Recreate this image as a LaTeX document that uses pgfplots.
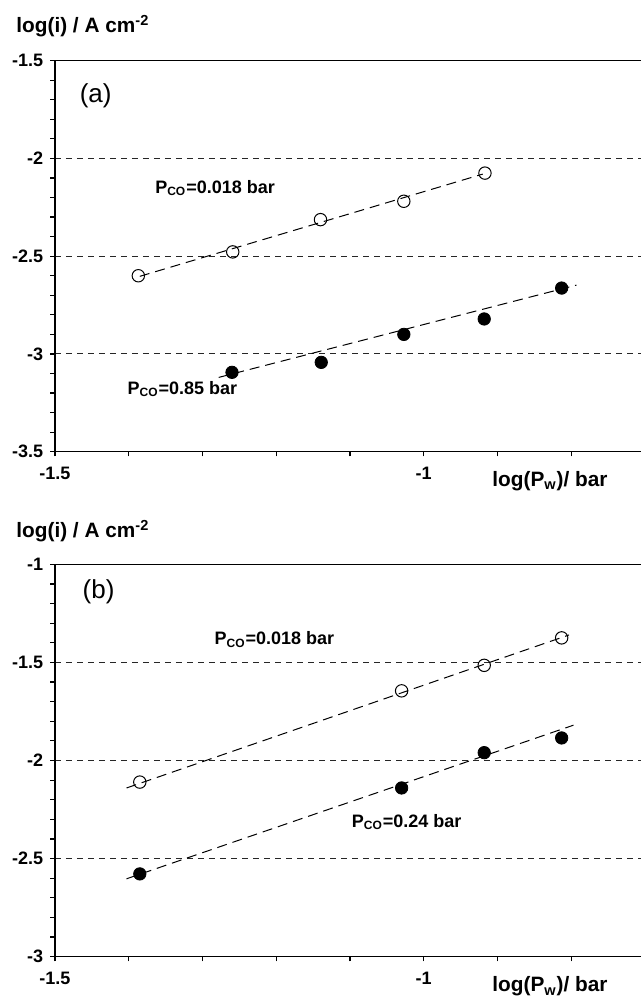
\documentclass[border=0pt]{standalone}
\usepackage{fontspec}
\setmainfont{Liberation Sans}
\usepackage{pgfplots}
\pgfplotsset{compat=1.18}

\pgfplotsset{
  panel/.style={
    scale only axis, width=295pt, anchor=south west,
    xmin=-1.5, xmax=-0.7,
    axis x line*=bottom, axis y line*=left,
    x axis line style={-}, y axis line style={-},
    axis line style={line width=0.8pt},
    tick align=outside, major tick length=2.4pt, minor tick length=2.4pt,
    every tick/.style={black, line width=0.6pt},
    xtick={-1.5,-1}, xticklabels={-1.5,-1},
    minor xtick={-1.4,-1.3,-1.2,-1.1,-0.9,-0.8},
    minor y tick num=4,
    ymajorgrids,
    major grid style={black!85, line width=0.55pt, dash pattern=on 3pt off 2.5pt},
    tick label style={font=\fontsize{9}{10}\selectfont\bfseries},
    xticklabel style={yshift=-2pt},
    clip=false,
  },
  open/.style={only marks, mark=o, mark size=3.1pt,
    mark options={line width=0.5pt, black, fill=white}},
  full/.style={only marks, mark=*, mark size=3.1pt, black},
  fit/.style={no marks, black, line width=0.5pt, dash pattern=on 5pt off 3pt},
}
\newcommand{\lab}{\fontsize{9}{10}\selectfont\bfseries}
\newcommand{\ttl}{\fontsize{10.4}{12}\selectfont\bfseries}

\begin{document}
\begin{tikzpicture}
\useasboundingbox (0,0) rectangle (320.5pt,501.5pt);

% (a)
\begin{axis}[panel, at={(27.5pt,275.65pt)}, height=195.5pt,
  ymin=-3.5, ymax=-1.5,
  ytick={-3.5,-3,-2.5,-2,-1.5}, yticklabels={-3.5,-3,-2.5,-2,-1.5}]
\draw[line width=0.7pt] (rel axis cs:0,1) -- (rel axis cs:1,1);
\addplot[fit] coordinates {(-1.385,-2.603) (-0.92,-2.08)};
\addplot[fit] coordinates {(-1.278,-3.12) (-0.793,-2.648)};
\addplot[open] coordinates {
(-1.387,-2.600) (-1.259,-2.478) (-1.140,-2.313) (-1.027,-2.219) (-0.917,-2.075)};
\addplot[full] coordinates {
(-1.260,-3.094) (-1.139,-3.043) (-1.027,-2.900) (-0.918,-2.821) (-0.813,-2.663)};
\node[anchor=west, font=\fontsize{13}{14}\selectfont] at (axis cs:-1.476,-1.681) {(a)};
\node[anchor=base west, font=\lab, inner sep=0pt] at (axis cs:-1.3645,-2.177) {P\textsubscript{CO}=0.018 bar};
\node[anchor=base west, font=\lab, inner sep=0pt] at (axis cs:-1.402,-3.205) {P\textsubscript{CO}=0.85 bar};
\end{axis}

% (b)
\begin{axis}[panel, at={(27.5pt,23.15pt)}, height=196.2pt,
  ymin=-3, ymax=-1,
  ytick={-3,-2.5,-2,-1.5,-1}, yticklabels={-3,-2.5,-2,-1.5,-1}]
\draw[line width=0.7pt] (rel axis cs:0,1) -- (rel axis cs:1,1);
\addplot[fit] coordinates {(-1.403,-2.14) (-0.803,-1.36)};
\addplot[fit] coordinates {(-1.403,-2.603) (-0.797,-1.82)};
\addplot[open] coordinates {
(-1.385,-2.110) (-1.030,-1.645) (-0.918,-1.515) (-0.813,-1.375)};
\addplot[full] coordinates {
(-1.385,-2.578) (-1.030,-2.140) (-0.918,-1.960) (-0.813,-1.885)};
\node[anchor=west, font=\fontsize{13}{14}\selectfont] at (axis cs:-1.472,-1.142) {(b)};
\node[anchor=base west, font=\lab, inner sep=0pt] at (axis cs:-1.284,-1.411) {P\textsubscript{CO}=0.018 bar};
\node[anchor=base west, font=\lab, inner sep=0pt] at (axis cs:-1.098,-2.343) {P\textsubscript{CO}=0.24 bar};
\end{axis}

% axis titles
\node[anchor=base west, inner sep=0pt, font=\ttl] at (8pt,485pt) {log(i) / A cm\textsuperscript{-2}};
\node[anchor=base west, inner sep=0pt, font=\ttl] at (8pt,232.5pt) {log(i) / A cm\textsuperscript{-2}};
\node[anchor=base west, inner sep=0pt, font=\ttl] at (246pt,258pt) {log(P\textsubscript{w})/ bar};
\node[anchor=base west, inner sep=0pt, font=\ttl] at (246pt,5.5pt) {log(P\textsubscript{w})/ bar};
\end{tikzpicture}
\end{document}
